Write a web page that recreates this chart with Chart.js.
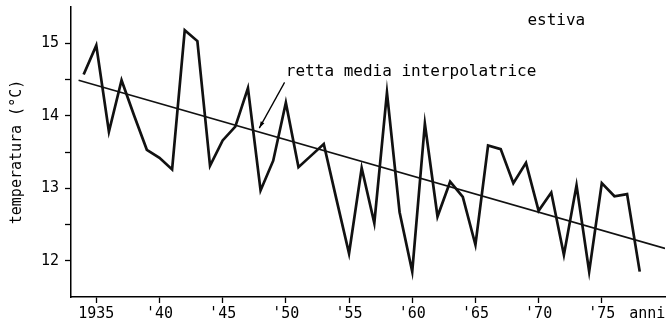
<!DOCTYPE html>
<html>
<head>
<meta charset="utf-8">
<script src="https://cdn.jsdelivr.net/npm/chart.js@4"></script>
<style>
  html, body { margin: 0; padding: 0; background: #fff; }
  #wrap { width: 667px; height: 329px; }
</style>
</head>
<body>
<div id="wrap"><canvas id="chart"></canvas></div>
<script>
const years = [1934, 1935, 1936, 1937, 1938, 1939, 1940, 1941, 1942, 1943,
  1944, 1945, 1946, 1947, 1948, 1949, 1950, 1951, 1952, 1953,
  1954, 1955, 1956, 1957, 1958, 1959, 1960, 1961, 1962, 1963,
  1964, 1965, 1966, 1967, 1968, 1969, 1970, 1971, 1972, 1973,
  1974, 1975, 1976, 1977, 1978];
const temps = [14.57, 14.97, 13.78, 14.49, 14.0, 13.53, 13.42, 13.26, 15.18, 15.03,
  13.31, 13.66, 13.85, 14.38, 12.97, 13.38, 14.18, 13.29, 13.45, 13.61,
  12.85, 12.1, 13.28, 12.52, 14.32, 12.67, 11.85, 13.89, 12.61, 13.09,
  12.88, 12.22, 13.59, 13.54, 13.07, 13.35, 12.69, 12.94, 12.08, 13.04,
  11.85, 13.07, 12.89, 12.92, 11.85];

// retta media interpolatrice
const trendYears = [1933.6, 1980];
const trendTemps = [14.49, 12.17];

const tickYears = [1935, 1940, 1945, 1950, 1955, 1960, 1965, 1970, 1975, 1978.6];
const tickLabels = ['1935', "'40", "'45", "'50", "'55", "'60", "'65", "'70", "'75", 'anni'];
const tempTicks = [12, 12.5, 13, 13.5, 14, 14.5, 15];

const mono = '"DejaVu Sans Mono", "Liberation Mono", monospace';

const notes = {
  id: 'notes',
  afterDatasetsDraw(chart) {
    const {ctx, scales: {x, y}} = chart;
    ctx.save();
    ctx.fillStyle = '#000';
    ctx.strokeStyle = '#000';
    ctx.font = '16px ' + mono;
    ctx.textBaseline = 'middle';
    ctx.textAlign = 'center';
    ctx.fillText('estiva', x.getPixelForValue(1971.4), y.getPixelForValue(15.31));
    ctx.textAlign = 'left';
    ctx.fillText('retta media interpolatrice', x.getPixelForValue(1950), y.getPixelForValue(14.61));

    // freccia verso la retta
    const x1 = x.getPixelForValue(1949.9), y1 = y.getPixelForValue(14.46);
    const x2 = x.getPixelForValue(1947.9), y2 = y.getPixelForValue(13.83);
    ctx.lineWidth = 1.3;
    ctx.beginPath();
    ctx.moveTo(x1, y1);
    ctx.lineTo(x2, y2);
    ctx.stroke();
    const a = Math.atan2(y2 - y1, x2 - x1);
    ctx.beginPath();
    ctx.moveTo(x2, y2);
    ctx.lineTo(x2 - 7 * Math.cos(a - 0.3), y2 - 7 * Math.sin(a - 0.3));
    ctx.lineTo(x2 - 7 * Math.cos(a + 0.3), y2 - 7 * Math.sin(a + 0.3));
    ctx.closePath();
    ctx.fill();
    ctx.restore();
  }
};

new Chart(document.getElementById('chart'), {
  type: 'line',
  data: {
    datasets: [{
      label: 'estiva',
      data: years.map((yr, i) => ({x: yr, y: temps[i]})),
      borderColor: '#111',
      borderWidth: 2.7,
      pointRadius: 0,
      tension: 0
    }, {
      label: 'retta media interpolatrice',
      data: trendYears.map((yr, i) => ({x: yr, y: trendTemps[i]})),
      borderColor: '#111',
      borderWidth: 1.6,
      pointRadius: 0,
      tension: 0
    }]
  },
  options: {
    responsive: true,
    maintainAspectRatio: false,
    animation: false,
    layout: { padding: { top: 7, right: 2, left: 0, bottom: 0 } },
    plugins: { legend: { display: false }, tooltip: { enabled: false } },
    scales: {
      x: {
        type: 'linear',
        min: 1933,
        max: 1980,
        afterBuildTicks: s => { s.ticks = tickYears.map(v => ({value: v})); },
        afterFit: s => { s.height = 32; s.paddingLeft = 0; s.paddingRight = 0; },
        ticks: {
          autoSkip: false,
          maxRotation: 0,
          padding: 2,
          color: '#000',
          font: { family: mono, size: 15 },
          callback: (v, i) => tickLabels[i]
        },
        grid: {
          drawOnChartArea: false,
          tickLength: 6,
          tickWidth: 1.3,
          tickColor: c => (c.tick && c.tick.value > 1976) ? 'rgba(0,0,0,0)' : '#000'
        },
        border: { color: '#000', width: 1.5 }
      },
      y: {
        min: 11.5,
        max: 15.5,
        afterBuildTicks: s => { s.ticks = tempTicks.map(v => ({value: v})); },
        afterFit: s => { s.width = 71; s.paddingTop = 0; s.paddingBottom = 0; },
        ticks: {
          padding: 6,
          color: '#000',
          font: { family: mono, size: 15 },
          callback: v => Number.isInteger(v) ? String(v) : ''
        },
        grid: {
          drawOnChartArea: false,
          tickLength: 6,
          tickWidth: 1.3,
          color: '#000'
        },
        border: { color: '#000', width: 1.5 },
        title: {
          display: true,
          text: 'temperatura (°C)',
          color: '#000',
          font: { family: mono, size: 15 },
          padding: { top: 8, bottom: 0 }
        }
      }
    }
  },
  plugins: [notes]
});
</script>
</body>
</html>
